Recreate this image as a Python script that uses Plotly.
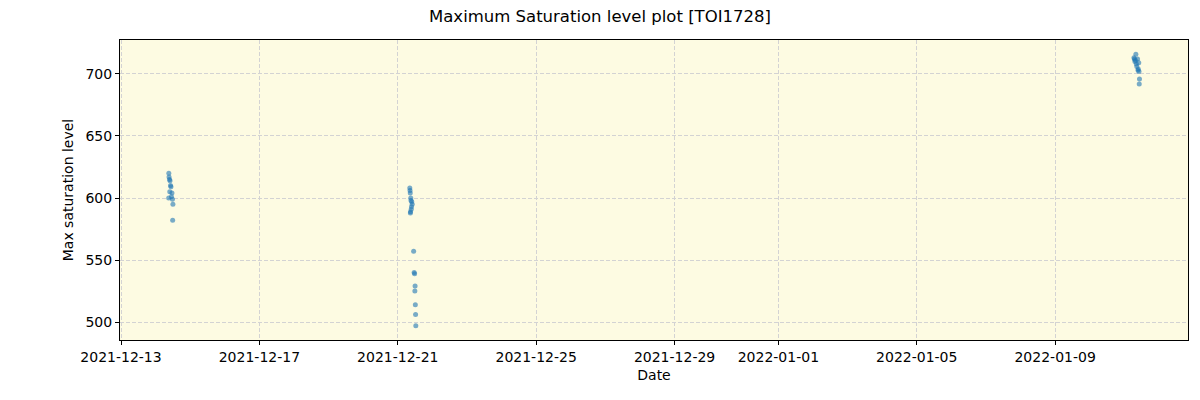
import plotly.graph_objects as go

dates = [
    # cluster 1 (2021-12-14)
    "2021-12-14 09:10", "2021-12-14 09:20", "2021-12-14 09:40", "2021-12-14 10:00",
    "2021-12-14 10:20", "2021-12-14 10:40", "2021-12-14 09:50", "2021-12-14 11:20",
    "2021-12-14 11:00", "2021-12-14 09:05", "2021-12-14 11:40", "2021-12-14 12:00",
    "2021-12-14 11:50",
    # cluster 2 (2021-12-21)
    "2021-12-21 08:20", "2021-12-21 08:30", "2021-12-21 08:40", "2021-12-21 09:00",
    "2021-12-21 09:10", "2021-12-21 09:40", "2021-12-21 10:00", "2021-12-21 09:30",
    "2021-12-21 09:20", "2021-12-21 08:50", "2021-12-21 08:45", "2021-12-21 11:00",
    "2021-12-21 11:20", "2021-12-21 11:40", "2021-12-21 12:00", "2021-12-21 11:50",
    "2021-12-21 12:10", "2021-12-21 12:20", "2021-12-21 12:30",
    # cluster 3 (2022-01-11)
    "2022-01-11 08:00", "2022-01-11 06:40", "2022-01-11 07:00", "2022-01-11 07:40",
    "2022-01-11 09:10", "2022-01-11 07:20", "2022-01-11 08:20", "2022-01-11 08:40",
    "2022-01-11 09:40", "2022-01-11 09:30", "2022-01-11 10:10", "2022-01-11 10:00",
    "2022-01-11 10:30", "2022-01-11 10:20",
]
max_saturation = [
    620, 617, 615, 614, 610, 609, 605, 604, 601, 600, 599, 595, 582,
    608, 606, 604, 600, 598, 597, 595, 593, 591, 589, 588, 557, 540, 539,
    529, 525, 514, 506, 497,
    716, 713, 712, 711, 712, 710, 708, 706, 704, 703, 702, 709, 696, 692,
]

tick_vals = ["2021-12-13", "2021-12-17", "2021-12-21", "2021-12-25",
             "2021-12-29", "2022-01-01", "2022-01-05", "2022-01-09"]
y_ticks = [500, 550, 600, 650, 700]

fig = go.Figure()
fig.add_trace(go.Scatter(
    x=dates, y=max_saturation, mode="markers",
    marker=dict(color="#1f77b4", size=5, opacity=0.6, line=dict(width=0)),
    showlegend=False,
))

fig.update_layout(
    width=1200, height=400,
    margin=dict(l=120, r=12, t=40, b=60),
    paper_bgcolor="white",
    plot_bgcolor="#fdfbe2",
    font=dict(family="DejaVu Sans", size=14, color="black"),
    title=dict(text="Maximum Saturation level plot [TOI1728]", x=0.5, xanchor="center",
               y=0.96, yanchor="middle", font=dict(size=16.5)),
)
fig.update_xaxes(
    range=["2021-12-12 23:18", "2022-01-12 20:10"],
    tickvals=tick_vals, ticktext=tick_vals,
    showgrid=True, gridcolor="#d3d3d3", griddash="4px,2px", gridwidth=1,
    showline=True, linecolor="black", linewidth=1, mirror=True,
    ticks="outside", ticklen=4, tickcolor="black",
    title=dict(text="Date", font=dict(size=14), standoff=6),
    zeroline=False, tickfont=dict(size=14),
)
fig.update_yaxes(
    range=[485.5, 727.4],
    tickvals=y_ticks,
    showgrid=True, gridcolor="#d3d3d3", griddash="4px,2px", gridwidth=1,
    showline=True, linecolor="black", linewidth=1, mirror=True,
    ticks="outside", ticklen=4, tickcolor="black",
    title=dict(text="Max saturation level", font=dict(size=14), standoff=8),
    zeroline=False, tickfont=dict(size=14),
)

fig.write_html("out.html")
